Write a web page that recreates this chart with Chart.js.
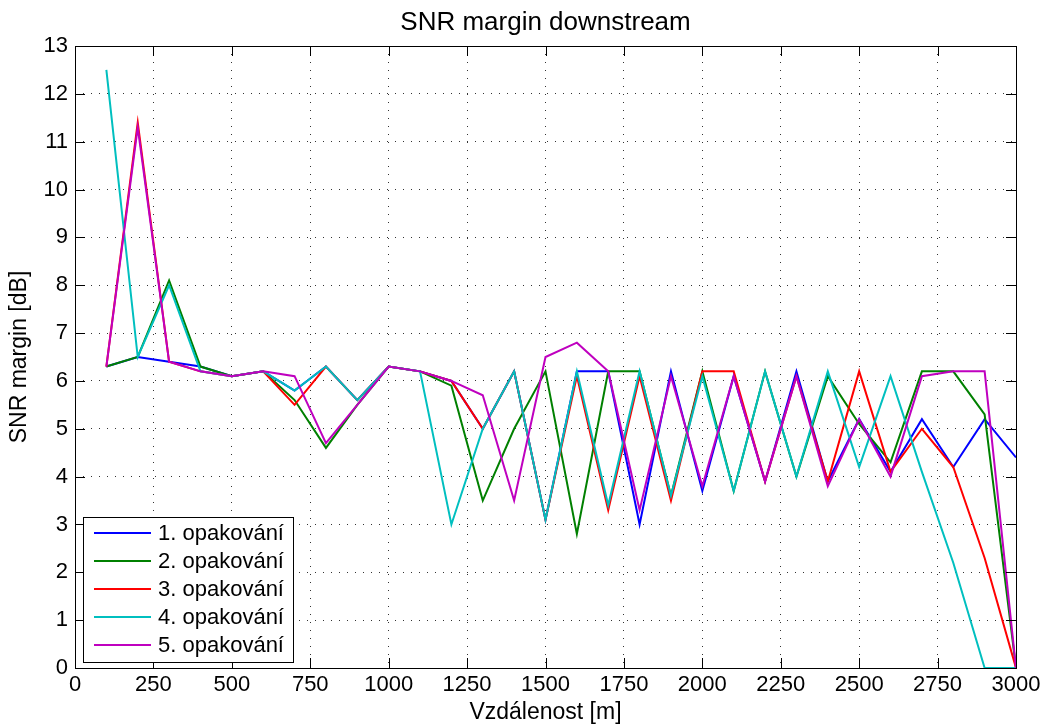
<!DOCTYPE html>
<html>
<head>
<meta charset="utf-8">
<title>SNR margin downstream</title>
<script src="https://cdn.jsdelivr.net/npm/chart.js@4.4.1/dist/chart.umd.min.js"></script>
<style>
  html, body { margin: 0; padding: 0; background: #fff; }
  #wrap { width: 1048px; height: 726px; }
</style>
</head>
<body>
<div id="wrap"><canvas id="snrChart" width="1048" height="726"></canvas></div>
<script>
// distances in metres
const distances = [100, 200, 300, 400, 500, 600, 700, 800, 900, 1000,
                   1100, 1200, 1300, 1400, 1500, 1600, 1700, 1800, 1900, 2000,
                   2100, 2200, 2300, 2400, 2500, 2600, 2700, 2800, 2900, 3000];

// SNR margin [dB] per repetition
const run1 = [6.3, 6.5, 6.4, 6.3, 6.1, 6.2, 5.8, 6.3, 5.6, 6.3,
              6.2, 6.0, 5.0, 6.2, 3.1, 6.2, 6.2, 3.0, 6.2, 3.7,
              6.1, 3.9, 6.2, 3.9, 5.2, 4.1, 5.2, 4.2, 5.2, 4.4];
const run2 = [6.3, 6.5, 8.1, 6.3, 6.1, 6.2, 5.6, 4.6, 5.5, 6.3,
              6.2, 5.9, 3.5, 5.0, 6.2, 2.8, 6.2, 6.2, 3.6, 6.2,
              3.7, 6.2, 4.0, 6.1, 5.1, 4.3, 6.2, 6.2, 5.3, 0];
const run3 = [6.3, 11.4, 6.4, 6.2, 6.1, 6.2, 5.5, 6.3, 5.6, 6.3,
              6.2, 6.0, 5.0, 6.2, 3.1, 6.1, 3.3, 6.1, 3.5, 6.2,
              6.2, 3.9, 6.1, 3.9, 6.2, 4.1, 5.0, 4.2, 2.3, 0];
const run4 = [12.5, 6.5, 8.0, 6.2, 6.1, 6.2, 5.8, 6.3, 5.6, 6.3,
              6.2, 3.0, 5.0, 6.2, 3.1, 6.2, 3.4, 6.2, 3.6, 6.1,
              3.7, 6.2, 4.0, 6.2, 4.2, 6.1, 4.1, 2.2, 0, 0];
const run5 = [6.3, 11.3, 6.4, 6.2, 6.1, 6.2, 6.1, 4.7, 5.5, 6.3,
              6.2, 6.0, 5.7, 3.5, 6.5, 6.8, 6.2, 3.3, 6.1, 3.8,
              6.1, 3.9, 6.1, 3.8, 5.2, 4.0, 6.1, 6.2, 6.2, 0];

const runLabels = ['1. opakování', '2. opakování', '3. opakování', '4. opakování', '5. opakování'];
const runColors = ['#0000ff', '#008000', '#ff0000', '#00bfbf', '#bf00bf'];
const runs = [run1, run2, run3, run4, run5];

const chartTitle = 'SNR margin downstream';
const FONT = "'Liberation Sans', Arial, Helvetica, sans-serif";

// frame with inward tick marks, like the original plot
const framePlugin = {
    id: 'frame',
    afterDatasetsDraw(chart) {
        const {ctx, chartArea: a, scales: {x, y}} = chart;
        const len = 10;
        ctx.save();
        ctx.strokeStyle = '#000';
        ctx.lineWidth = 1;
        ctx.strokeRect(Math.round(a.left) + 0.5, Math.round(a.top) + 0.5,
                       Math.round(a.right - a.left), Math.round(a.bottom - a.top));
        ctx.beginPath();
        x.ticks.forEach(t => {
            const px = Math.round(x.getPixelForValue(t.value)) + 0.5;
            ctx.moveTo(px, a.bottom); ctx.lineTo(px, a.bottom - len);
            ctx.moveTo(px, a.top); ctx.lineTo(px, a.top + len);
        });
        y.ticks.forEach(t => {
            const py = Math.round(y.getPixelForValue(t.value)) + 0.5;
            ctx.moveTo(a.left, py); ctx.lineTo(a.left + len, py);
            ctx.moveTo(a.right, py); ctx.lineTo(a.right - len, py);
        });
        ctx.stroke();

        // title centred over the plot area
        ctx.fillStyle = '#000';
        ctx.font = '26px ' + FONT;
        ctx.textAlign = 'center';
        ctx.textBaseline = 'middle';
        ctx.fillText(chartTitle, (a.left + a.right) / 2, 23);
        ctx.restore();
    }
};

// legend box inside the plot, bottom left
const boxLegend = {
    id: 'boxLegend',
    afterDraw(chart) {
        const {ctx, chartArea: a} = chart;
        const left = a.left + 8, bottom = a.bottom - 6;
        const w = 210, h = 145, rowH = 28;
        const top = bottom - h;
        ctx.save();
        ctx.fillStyle = '#fff';
        ctx.fillRect(left, top, w, h);
        ctx.strokeStyle = '#000';
        ctx.lineWidth = 1;
        ctx.strokeRect(left + 0.5, top + 0.5, w, h);
        ctx.font = '22px ' + FONT;
        ctx.textBaseline = 'middle';
        chart.data.datasets.forEach((ds, i) => {
            const cy = top + 16 + i * rowH;
            ctx.strokeStyle = ds.borderColor;
            ctx.lineWidth = 2;
            ctx.beginPath();
            ctx.moveTo(left + 11, cy); ctx.lineTo(left + 68, cy);
            ctx.stroke();
            ctx.fillStyle = '#000';
            ctx.fillText(ds.label, left + 75, cy + 1);
        });
        ctx.restore();
    }
};

const ctx = document.getElementById('snrChart');
new Chart(ctx, {
    type: 'line',
    data: {
        datasets: runs.map((r, i) => ({
            label: runLabels[i],
            data: distances.map((d, j) => ({x: d, y: r[j]})),
            borderColor: runColors[i],
            backgroundColor: runColors[i],
            borderWidth: 2,
            pointRadius: 0,
            tension: 0,
            fill: false,
            order: runs.length - i   // later runs drawn on top
        }))
    },
    options: {
        responsive: false,
        animation: false,
        devicePixelRatio: 1,
        layout: { padding: { left: 0, right: 32, top: 46, bottom: 0 } },
        scales: {
            x: {
                type: 'linear',
                min: 0, max: 3000,
                afterFit: s => { s.height = 58; },
                ticks: { stepSize: 250, color: '#000', padding: 4, maxRotation: 0,
                         callback: v => String(v),
                         font: { family: FONT, size: 22 } },
                grid: { color: '#333', drawTicks: false },
                border: { display: false, dash: [1, 7] },
                title: { display: true, text: 'Vzdálenost [m]', color: '#000',
                         font: { family: FONT, size: 23 }, padding: { top: 0, bottom: 0 } }
            },
            y: {
                min: 0, max: 13,
                afterFit: s => { s.width = 75; },
                ticks: { stepSize: 1, color: '#000', padding: 7,
                         callback: v => String(v),
                         font: { family: FONT, size: 22 } },
                grid: { color: '#333', drawTicks: false },
                border: { display: false, dash: [1, 7] },
                title: { display: true, text: 'SNR margin [dB]', color: '#000',
                         font: { family: FONT, size: 23 }, padding: { top: 6, bottom: 0 } }
            }
        },
        plugins: {
            legend: { display: false },
            tooltip: { enabled: false },
            title: { display: false }
        }
    },
    plugins: [framePlugin, boxLegend]
});
</script>
</body>
</html>
